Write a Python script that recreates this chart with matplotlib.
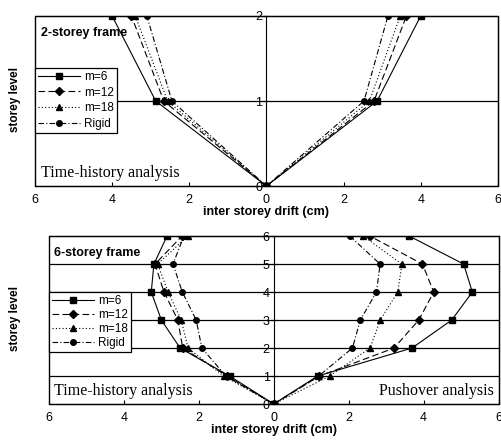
import matplotlib.pyplot as plt
from matplotlib.patches import Rectangle
from matplotlib.ticker import FuncFormatter

plt.rcParams['font.family'] = ['Liberation Sans', 'DejaVu Sans']

labels = ['m=6', 'm=12', 'm=18', 'Rigid']
styles = ['-', (0, (6, 3)), (0, (1, 2)), (0, (5, 2, 1, 2))]
markers = ['s', 'D', '^', 'o']
msizes = [5, 4, 5, 4]

# 2-storey frame
levels2 = [0, 1, 2]
th2 = {  # time-history (drawn to the left)
    'm=6':   [0, 2.87, 4.0],
    'm=12':  [0, 2.66, 3.5],
    'm=18':  [0, 2.56, 3.4],
    'Rigid': [0, 2.45, 3.1],
}
po2 = {  # right side
    'm=6':   [0, 2.87, 4.0],
    'm=12':  [0, 2.79, 3.63],
    'm=18':  [0, 2.67, 3.47],
    'Rigid': [0, 2.53, 3.15],
}

# 6-storey frame
levels6 = [0, 1, 2, 3, 4, 5, 6]
th6 = {
    'm=6':   [0, 1.18, 2.5, 3.0, 3.27, 3.2, 2.85],
    'm=12':  [0, 1.25, 2.43, 2.56, 2.93, 3.17, 2.45],
    'm=18':  [0, 1.34, 2.29, 2.47, 2.82, 3.1, 2.3],
    'Rigid': [0, 1.28, 1.92, 2.07, 2.44, 2.69, 2.4],
}
po6 = {
    'm=6':   [0, 1.17, 3.69, 4.75, 5.3, 5.07, 3.62],
    'm=12':  [0, 1.22, 3.21, 3.87, 4.27, 3.97, 2.57],
    'm=18':  [0, 1.49, 2.57, 2.84, 3.31, 3.42, 2.39],
    'Rigid': [0, 1.2, 2.1, 2.31, 2.74, 2.84, 2.03],
}

fig = plt.figure(figsize=(5.02, 4.43), dpi=100)
ax1 = fig.add_axes([0.0697, 0.580, 0.922, 0.384])
ax2 = fig.add_axes([0.0976, 0.088, 0.8955, 0.379])


def draw(ax, levels, left, right, title, loc_box, lspace):
    for i, name in enumerate(labels):
        ax.plot([-v for v in left[name]], levels, color='black', lw=0.8,
                linestyle=styles[i], marker=markers[i], ms=msizes[i],
                label=name)
        ax.plot(right[name], levels, color='black', lw=0.8,
                linestyle=styles[i], marker=markers[i], ms=msizes[i])
    ax.set_xlim(-6, 6)
    ax.set_ylim(0, levels[-1])
    ax.set_xticks([-6, -4, -2, 0, 2, 4, 6])
    ax.xaxis.set_major_formatter(FuncFormatter(lambda v, p: '%d' % abs(v)))
    ax.set_yticks(levels)
    ax.spines['left'].set_position(('data', 0))
    ax.add_patch(Rectangle((0, 0), 1, 1, transform=ax.transAxes, fill=False,
                           lw=1, color='black', clip_on=False, zorder=5))
    for lv in levels[1:-1]:
        ax.axhline(lv, color='black', lw=0.9, zorder=0)
    ax.tick_params(axis='x', direction='in', length=3, labelsize=9, pad=6)
    ax.tick_params(axis='y', direction='inout', length=4, labelsize=9, pad=1)
    ax.set_xlabel('inter storey drift (cm)', fontsize=9, fontweight='bold',
                  labelpad=0)
    ax.text(0.012, 0.9, title, transform=ax.transAxes, fontsize=9,
            fontweight='bold', va='center')
    ax.text(0.012, 0.075, 'Time-history analysis', transform=ax.transAxes,
            fontsize=11.5, family='Liberation Serif', va='center')
    leg = ax.legend(loc='upper left', bbox_to_anchor=loc_box, fontsize=8.5,
                    frameon=True, fancybox=False, edgecolor='black',
                    framealpha=1, borderpad=0.25, labelspacing=lspace,
                    handlelength=3.6, handletextpad=0.3, borderaxespad=0)
    leg.get_frame().set_linewidth(0.9)
    leg.set_zorder(6)


draw(ax1, levels2, th2, po2, '2-storey frame', (0.0, 0.695), 0.32)
draw(ax2, levels6, th6, po6, '6-storey frame', (0.0, 0.667), 0.18)
ax2.text(0.99, 0.075, 'Pushover analysis', transform=ax2.transAxes,
         fontsize=11.5, family='Liberation Serif', va='center', ha='right')

fig.text(0.03, 0.775, 'storey level', rotation=90, fontsize=8.5,
         fontweight='bold', ha='center', va='center')
fig.text(0.03, 0.28, 'storey level', rotation=90, fontsize=8.5,
         fontweight='bold', ha='center', va='center')

fig.savefig('out.png', dpi=100)
